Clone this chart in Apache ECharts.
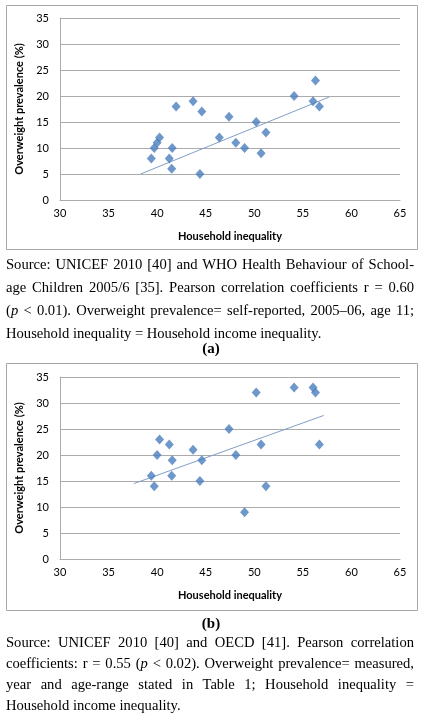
<!DOCTYPE html>
<html>
<head>
<meta charset="utf-8">
<script src="https://cdn.jsdelivr.net/npm/echarts@6/dist/echarts.min.js"></script>
<style>
html,body{margin:0;padding:0;background:#fff;}
#chart{position:absolute;left:0;top:0;width:422px;height:725px;}
.cap{position:absolute;left:6px;width:408px;font-family:"Liberation Serif","Times New Roman",serif;font-size:14.6px;color:#000;}
.cap .l{text-align:justify;text-align-last:justify;white-space:nowrap;}
.cap .last{text-align:left;white-space:nowrap;}
.lab{position:absolute;left:0;width:422px;text-align:center;font-family:"Liberation Serif",serif;font-weight:bold;font-size:15px;}
</style>
</head>
<body>
<div id="chart"></div>
<div class="cap" style="top:253px;line-height:23px;">
<div class="l">Source: UNICEF 2010 [40] and WHO Health Behaviour of School-</div>
<div class="l">age Children 2005/6 [35]. Pearson correlation coefficients r = 0.60</div>
<div class="l">(<i>p</i> &lt; 0.01). Overweight prevalence= self-reported, 2005–06, age 11;</div>
<div class="last">Household inequality = Household income inequality.</div>
</div>
<div class="lab" style="top:340px;">(<b>a</b>)</div>
<div class="lab" style="top:615px;">(<b>b</b>)</div>
<div class="cap" style="top:632px;line-height:21px;">
<div class="l">Source: UNICEF 2010 [40] and OECD [41]. Pearson correlation</div>
<div class="l">coefficients: r = 0.55 (<i>p</i> &lt; 0.02). Overweight prevalence= measured,</div>
<div class="l">year and age-range stated in Table 1; Household inequality =</div>
<div class="last">Household income inequality.</div>
</div>
<script>
// Chart (a): self-reported overweight, age 11
const inequalityA = [39.4, 39.7, 40.0, 40.25, 41.25, 41.55, 41.5, 41.95, 43.7, 44.4, 44.6, 46.4, 47.4, 48.1, 49.0, 50.2, 50.7, 51.2, 54.1, 56.05, 56.3, 56.7];
const overweightA = [8, 10, 11, 12, 8, 10, 6, 18, 19, 5, 17, 12, 16, 11, 10, 15, 9, 13, 20, 19, 23, 18];
const trendA = [[38.3, 5.0], [57.7, 19.8]];

// Chart (b): measured overweight
const inequalityB = [39.4, 39.7, 40.0, 40.25, 41.25, 41.55, 41.5, 43.7, 44.4, 44.6, 47.4, 48.1, 49.0, 50.2, 50.7, 51.2, 54.1, 56.05, 56.3, 56.7];
const overweightB = [16, 14, 20, 23, 22, 19, 16, 21, 15, 19, 25, 20, 9, 32, 22, 14, 33, 33, 32, 22];
const trendB = [[37.6, 14.5], [57.15, 27.6]];

const xTicks = [30, 35, 40, 45, 50, 55, 60, 65];
const yTicks = [0, 5, 10, 15, 20, 25, 30, 35];
const xTitle = 'Household inequality';
const yTitle = 'Overweight prevalence (%)';

const pair = (xs, ys) => xs.map((x, i) => [x, ys[i]]);
const font = 'Lato, "Open Sans", sans-serif';

function xAxis(gi) {
  return {
    gridIndex: gi, type: 'value', min: xTicks[0], max: xTicks[xTicks.length - 1], interval: 5,
    name: xTitle, nameLocation: 'middle', nameGap: 31,
    nameTextStyle: {fontFamily: font, fontSize: 11, fontWeight: 'bold', color: '#000'},
    axisLine: {show: true, lineStyle: {color: '#ababab', width: 1}},
    axisTick: {show: false},
    axisLabel: {fontFamily: font, fontSize: 11, color: '#000', margin: 8},
    splitLine: {show: false}
  };
}
function yAxis(gi) {
  return {
    gridIndex: gi, type: 'value', min: yTicks[0], max: yTicks[yTicks.length - 1], interval: 5,
    name: yTitle, nameLocation: 'middle', nameGap: 29,
    nameTextStyle: {fontFamily: font, fontSize: 11, fontWeight: 'bold', color: '#000'},
    axisLine: {show: true, lineStyle: {color: '#ababab', width: 1}},
    axisTick: {show: false},
    axisLabel: {fontFamily: font, fontSize: 11, color: '#000', margin: 11},
    splitLine: {show: true, lineStyle: {color: '#ababab', width: 1}}
  };
}
const marker = {color: '#4a7ebb'};
const chart = echarts.init(document.getElementById('chart'), null, {renderer: 'canvas'});
chart.setOption({
  animation: false,
  backgroundColor: '#fff',
  grid: [
    {left: 60, top: 18, width: 340, height: 182},
    {left: 60, top: 377, width: 340, height: 182}
  ],
  xAxis: [xAxis(0), xAxis(1)],
  yAxis: [yAxis(0), yAxis(1)],
  graphic: [
    {type: 'rect', shape: {x: 6.5, y: 5.5, width: 411, height: 244}, style: {fill: 'none', stroke: '#a6a6a6', lineWidth: 1}, z: -1},
    {type: 'rect', shape: {x: 6.5, y: 363.5, width: 411, height: 247}, style: {fill: 'none', stroke: '#a6a6a6', lineWidth: 1}, z: -1}
  ],
  series: [
    {type: 'scatter', xAxisIndex: 0, yAxisIndex: 0, data: pair(inequalityA, overweightA), symbol: 'diamond', symbolSize: [9, 10], itemStyle: marker, z: 3},
    {type: 'line', xAxisIndex: 0, yAxisIndex: 0, data: trendA, symbol: 'none', lineStyle: {color: '#7f9fc8', width: 1}, z: 2},
    {type: 'scatter', xAxisIndex: 1, yAxisIndex: 1, data: pair(inequalityB, overweightB), symbol: 'diamond', symbolSize: [9, 10], itemStyle: marker, z: 3},
    {type: 'line', xAxisIndex: 1, yAxisIndex: 1, data: trendB, symbol: 'none', lineStyle: {color: '#7f9fc8', width: 1}, z: 2}
  ]
});
</script>
</body>
</html>
